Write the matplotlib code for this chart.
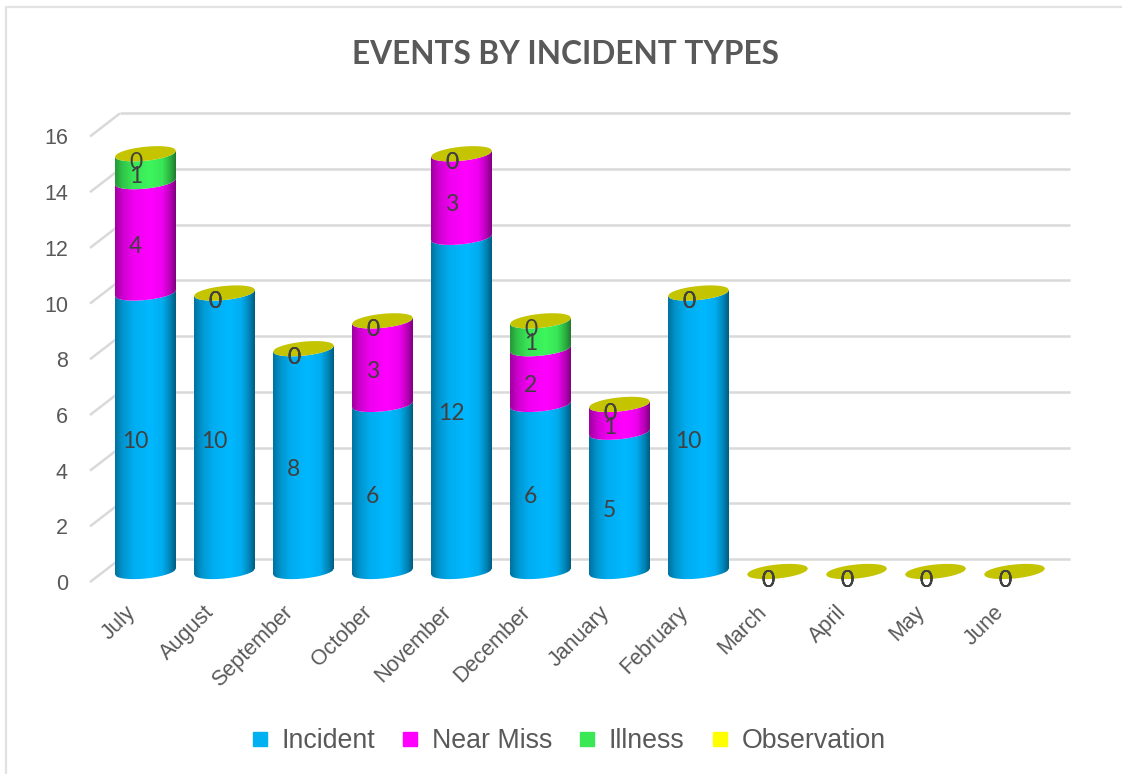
import numpy as np
import matplotlib
matplotlib.use("Agg")
import matplotlib.pyplot as plt
from matplotlib.lines import Line2D
from matplotlib.patches import PathPatch
from matplotlib.path import Path
from matplotlib.transforms import ScaledTranslation

months = ["July", "August", "September", "October", "November", "December",
          "January", "February", "March", "April", "May", "June"]
incident = [10, 10, 8, 6, 12, 6, 5, 10, 0, 0, 0, 0]
near_miss = [4, 0, 0, 3, 3, 2, 1, 0, 0, 0, 0, 0]
illness = [1, 0, 0, 0, 0, 1, 0, 0, 0, 0, 0, 0]
observation = [0, 0, 0, 0, 0, 0, 0, 0, 0, 0, 0, 0]

series = [("Incident", incident, "#00B8FF", "#00B0F0"),
          ("Near Miss", near_miss, "#FF00FF", "#FF00FF"),
          ("Illness", illness, "#3DF55C", "#39E854"),
          ("Observation", observation, "#C4C400", "#FFFF00")]
y_ticks = list(range(0, 17, 2))

W, H = 1122, 774
PX_X0, PX_DX = 145.5, 79.0     # first cylinder centre, spacing
PX_Y0, PX_DY = 571.5, 27.85    # floor level, pixels per unit
AX_L, AX_R, AX_T, AX_B = 85, 1075, 100, 590

TEXT = "#595959"
LABEL = "#404040"
GRID = "#D9D9D9"

fig = plt.figure(figsize=(W / 100, H / 100), dpi=100, facecolor="white")
ax = fig.add_axes([AX_L / W, 1 - AX_B / H, (AX_R - AX_L) / W, (AX_B - AX_T) / H])
ax.set_xlim((AX_L - PX_X0) / PX_DX, (AX_R - PX_X0) / PX_DX)
ax.set_ylim((PX_Y0 - AX_B) / PX_DY, (PX_Y0 - AX_T) / PX_DY)
ax.patch.set_alpha(0)
for spine in ax.spines.values():
    spine.set_visible(False)

# Half-width of a cylinder and the shape of its tilted elliptical caps
HALF = 30.5 / PX_DX
CAP_B = 7.0 / PX_DY
CAP_TILT = 3.0 / PX_DY

# Floor and back-wall rules of the 3-D frame
BACK_DY, FRONT_DY = 0.45, -0.38
FRONT_X, BACK_X, END_X = (90 - PX_X0) / PX_DX, (120 - PX_X0) / PX_DX, (1070 - PX_X0) / PX_DX
for v in y_ticks:
    ax.plot([FRONT_X, BACK_X], [v + FRONT_DY, v + BACK_DY], color=GRID, lw=1.8,
            solid_capstyle="butt", zorder=1, clip_on=False)
    ax.plot([BACK_X, END_X], [v + BACK_DY, v + BACK_DY], color=GRID, lw=1.8,
            solid_capstyle="butt", zorder=1, clip_on=False)


def shade(base, t):
    """Cylinder shading: darker at both rims, brightest right of centre."""
    stops_x = [0.0, 0.12, 0.3, 0.58, 0.78, 0.92, 1.0]
    stops_k = [0.62, 0.8, 0.94, 1.0, 0.94, 0.7, 0.5]
    k = np.interp(t, stops_x, stops_k)
    rgb = np.array(matplotlib.colors.to_rgb(base))
    return k[..., None] * rgb


def arc(cx, v, n=40, front=True):
    xs = np.linspace(-1, 1, n)
    sign = -1 if front else 1
    ys = v + CAP_TILT * xs + sign * CAP_B * np.sqrt(1 - xs ** 2)
    return cx + HALF * xs, ys


ramp = np.linspace(0, 1, 128)[None, :]
for i in range(len(months)):
    bottom = 0
    for name, values, color, _ in series:
        value = values[i]
        if value > 0 and name != "Observation":
            top = bottom + value
            x0, y0 = arc(i, bottom)
            x1, y1 = arc(i, top)
            verts = np.vstack([np.c_[x0, y0], np.c_[x1, y1][::-1], [[x0[0], y0[0]]]])
            clip = PathPatch(Path(verts, closed=True), transform=ax.transData,
                             fc="none", ec="none")
            ax.add_patch(clip)
            img = ax.imshow(shade(color, ramp),
                            extent=(i - HALF, i + HALF, bottom - 0.5, top + 0.5),
                            aspect="auto", origin="lower", zorder=3 + bottom * 0.01,
                            interpolation="bilinear")
            img.set_clip_path(clip)
        bottom += value
    # The zero-height top series shows as the coloured lid of each stack
    xa, ya = arc(i, bottom, front=True)
    xb, yb = arc(i, bottom, front=False)
    lid = np.vstack([np.c_[xa, ya], np.c_[xb, yb][::-1]])
    ax.fill(lid[:, 0], lid[:, 1], color=series[-1][2], lw=0, zorder=4)

# Value labels sit left of each cylinder's axis, just under the segment middle
label_shift = ScaledTranslation(-10 / 100, -9 / 100, fig.dpi_scale_trans)
for i in range(len(months)):
    bottom = 0
    for name, values, color, _ in series:
        value = values[i]
        ax.text(i, bottom + value / 2, str(value), ha="center", va="center",
                fontsize=16.5, family="Lato", color=LABEL, zorder=6,
                transform=ax.transData + label_shift)
        bottom += value

ax.set_xticks(range(len(months)))
ax.set_xticklabels(months, rotation=45, ha="right", rotation_mode="anchor",
                   fontsize=15.5, family="Liberation Sans", color=TEXT)
ax.set_yticks(y_ticks)
ax.set_yticklabels([str(t) for t in y_ticks], fontsize=15.5,
                   family="Liberation Sans", color=TEXT)
ax.tick_params(length=0, pad=0)
x_off = ScaledTranslation(-21 / 100, -12 / 100, fig.dpi_scale_trans)
for lab in ax.get_xticklabels():
    lab.set_transform(lab.get_transform() + x_off)
y_off = ScaledTranslation(-17 / 100, -10.5 / 100, fig.dpi_scale_trans)
for lab in ax.get_yticklabels():
    lab.set_transform(lab.get_transform() + y_off)

fig.text(565 / W, 1 - 55 / H, "EVENTS BY INCIDENT TYPES", ha="center", va="center",
         fontsize=22.8, fontweight="bold", family="Lato", color=TEXT)

handles = [Line2D([], [], ls="", marker="s", ms=10, mfc=key, mec=key, label=name)
           for name, _, _, key in series]
fig.legend(handles=handles, ncol=4, loc="center", bbox_to_anchor=(566 / W, 1 - 741 / H),
           frameon=False, prop={"family": "Liberation Sans", "size": 19.3},
           labelcolor=TEXT, handlelength=1.0, handletextpad=0.3, columnspacing=0.82)

fig.add_artist(Line2D([6 / W, 6 / W, 1122 / W], [0, 1 - 7 / H, 1 - 7 / H],
                      color="#E2E2E2", lw=1.6, transform=fig.transFigure))

fig.savefig("out.png", dpi=100, facecolor="white")
